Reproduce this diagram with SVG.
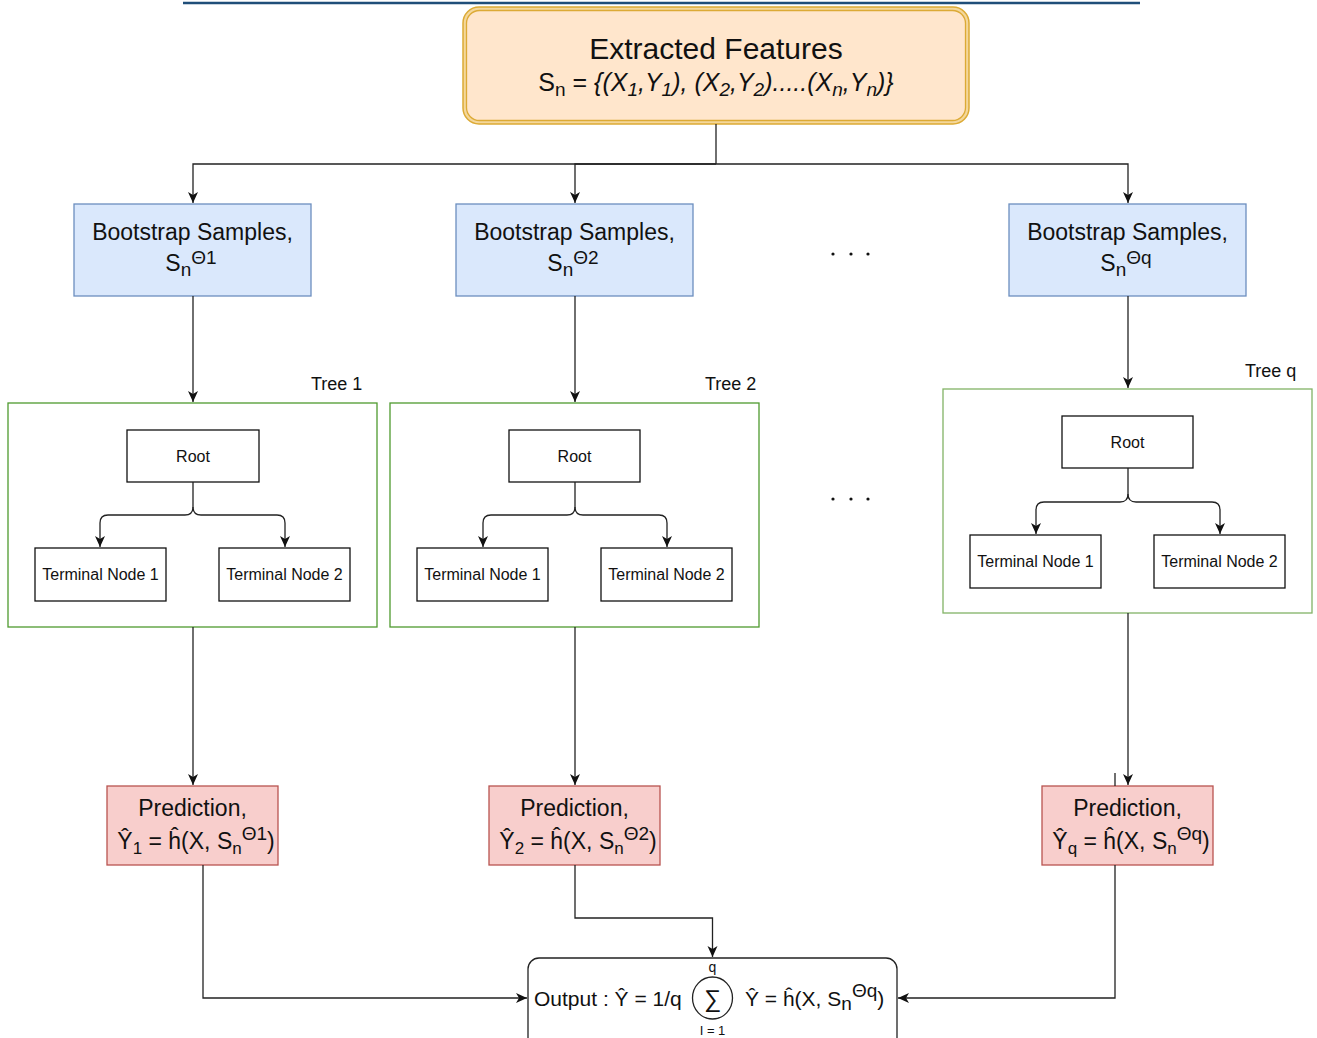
<svg xmlns="http://www.w3.org/2000/svg" width="1317" height="1038" viewBox="0 0 1317 1038">
<defs>
<marker id="arr" markerUnits="userSpaceOnUse" markerWidth="12" markerHeight="12" viewBox="0 0 12 12" refX="11" refY="6" orient="auto">
<path d="M0,1 L11,6 L0,11 L3,6 Z" fill="#111"/>
</marker>
<style>
text{font-family:"Liberation Sans",Arial,Helvetica,sans-serif;fill:#111}
.conn path,.conn line{fill:none;stroke:#222;stroke-width:1.3}
.boot{fill:#dae8fc;stroke:#6c8ebf;stroke-width:1.3}
.pred{fill:#f8cecc;stroke:#b85450;stroke-width:1.3}
.tree{fill:#fff;stroke:#4f9a2f;stroke-width:1.3}
.treeq{fill:#fff;stroke:#82b366;stroke-width:1.3}
.nd{fill:#fff;stroke:#111;stroke-width:1.3}
.big{font-size:23px}
.ndt{font-size:16px}
.lbl{font-size:18px}
.sub{font-size:17px}
.dot{fill:#111}
</style>
</defs>
<rect width="1317" height="1038" fill="#fff"/>
<line x1="183" y1="3" x2="1140" y2="3" stroke="#1f4e79" stroke-width="2.5"/>

<g id="extracted">
<rect x="463" y="7" width="506" height="117" rx="16" fill="#f4d79b" stroke="#dcaa35" stroke-width="1.5"/>
<rect x="466.5" y="10.5" width="499" height="110" rx="13" fill="#ffe6cc" stroke="#dcaa35" stroke-width="1.3"/>
<text x="716" y="59" text-anchor="middle" font-size="30">Extracted Features</text>
<text x="716" y="91" text-anchor="middle" font-size="25">S<tspan font-size="19" dy="5">n</tspan><tspan dy="-5"> = </tspan><tspan font-style="italic">{(X<tspan font-size="19" dy="5">1</tspan><tspan dy="-5">,Y</tspan><tspan font-size="19" dy="5">1</tspan><tspan dy="-5">), (X</tspan><tspan font-size="19" dy="5">2</tspan><tspan dy="-5">,Y</tspan><tspan font-size="19" dy="5">2</tspan><tspan dy="-5">).....(X</tspan><tspan font-size="19" dy="5">n</tspan><tspan dy="-5">,Y</tspan><tspan font-size="19" dy="5">n</tspan><tspan dy="-5">)}</tspan></tspan></text>
</g>

<g id="boot1">
<rect class="boot" x="74" y="204" width="237" height="92"/>
<text class="big" x="192.5" y="240" text-anchor="middle">Bootstrap Samples,</text>
<text class="big" x="191" y="271" text-anchor="middle">S<tspan font-size="19" dy="5">n</tspan><tspan dy="-12" font-size="19">Θ1</tspan></text>
</g>
<g id="boot2">
<rect class="boot" x="456" y="204" width="237" height="92"/>
<text class="big" x="574.5" y="240" text-anchor="middle">Bootstrap Samples,</text>
<text class="big" x="573" y="271" text-anchor="middle">S<tspan font-size="19" dy="5">n</tspan><tspan dy="-12" font-size="19">Θ2</tspan></text>
</g>
<g id="bootq">
<rect class="boot" x="1009" y="204" width="237" height="92"/>
<text class="big" x="1127.5" y="240" text-anchor="middle">Bootstrap Samples,</text>
<text class="big" x="1126" y="271" text-anchor="middle">S<tspan font-size="19" dy="5">n</tspan><tspan dy="-12" font-size="19">Θq</tspan></text>
</g>

<g id="dots1">
<circle class="dot" cx="833" cy="254" r="1.6"/><circle class="dot" cx="851" cy="254" r="1.6"/><circle class="dot" cx="868" cy="254" r="1.6"/>
</g>
<g id="dots2">
<circle class="dot" cx="833" cy="499" r="1.6"/><circle class="dot" cx="851" cy="499" r="1.6"/><circle class="dot" cx="868" cy="499" r="1.6"/>
</g>

<g id="tree1">
<rect class="tree" x="8" y="403" width="369" height="224"/>
<text class="lbl" x="311" y="390">Tree 1</text>
<g id="root1"><rect class="nd" x="127" y="430" width="132" height="52"/><text class="ndt" x="193" y="462" text-anchor="middle">Root</text></g>
<g id="t1n1"><rect class="nd" x="35" y="548" width="131" height="53"/><text class="ndt" x="100.5" y="580" text-anchor="middle">Terminal Node 1</text></g>
<g id="t1n2"><rect class="nd" x="219" y="548" width="131" height="53"/><text class="ndt" x="284.5" y="580" text-anchor="middle">Terminal Node 2</text></g>
</g>
<g id="tree2">
<rect class="tree" x="390" y="403" width="369" height="224"/>
<text class="lbl" x="705" y="390">Tree 2</text>
<g id="root2"><rect class="nd" x="509" y="430" width="131" height="52"/><text class="ndt" x="574.5" y="462" text-anchor="middle">Root</text></g>
<g id="t2n1"><rect class="nd" x="417" y="548" width="131" height="53"/><text class="ndt" x="482.5" y="580" text-anchor="middle">Terminal Node 1</text></g>
<g id="t2n2"><rect class="nd" x="601" y="548" width="131" height="53"/><text class="ndt" x="666.5" y="580" text-anchor="middle">Terminal Node 2</text></g>
</g>
<g id="treeq">
<rect class="treeq" x="943" y="389" width="369" height="224"/>
<text class="lbl" x="1245" y="377">Tree q</text>
<g id="rootq"><rect class="nd" x="1062" y="416" width="131" height="52"/><text class="ndt" x="1127.5" y="448" text-anchor="middle">Root</text></g>
<g id="tqn1"><rect class="nd" x="970" y="535" width="131" height="53"/><text class="ndt" x="1035.5" y="567" text-anchor="middle">Terminal Node 1</text></g>
<g id="tqn2"><rect class="nd" x="1154" y="535" width="131" height="53"/><text class="ndt" x="1219.5" y="567" text-anchor="middle">Terminal Node 2</text></g>
</g>

<g id="pred1">
<rect class="pred" x="107" y="786" width="171" height="79"/>
<text class="big" x="192.5" y="816" text-anchor="middle">Prediction,</text>
<text class="big" x="196" y="849" text-anchor="middle">Ŷ<tspan class="sub" dy="5">1</tspan><tspan dy="-5"> = ĥ(X, S</tspan><tspan class="sub" dy="5">n</tspan><tspan dy="-14" font-size="19">Θ1</tspan><tspan dy="9">)</tspan></text>
</g>
<g id="pred2">
<rect class="pred" x="489" y="786" width="171" height="79"/>
<text class="big" x="574.5" y="816" text-anchor="middle">Prediction,</text>
<text class="big" x="578" y="849" text-anchor="middle">Ŷ<tspan class="sub" dy="5">2</tspan><tspan dy="-5"> = ĥ(X, S</tspan><tspan class="sub" dy="5">n</tspan><tspan dy="-14" font-size="19">Θ2</tspan><tspan dy="9">)</tspan></text>
</g>
<g id="predq">
<rect class="pred" x="1042" y="786" width="171" height="79"/>
<text class="big" x="1127.5" y="816" text-anchor="middle">Prediction,</text>
<text class="big" x="1131" y="849" text-anchor="middle">Ŷ<tspan class="sub" dy="5">q</tspan><tspan dy="-5"> = ĥ(X, S</tspan><tspan class="sub" dy="5">n</tspan><tspan dy="-14" font-size="19">Θq</tspan><tspan dy="9">)</tspan></text>
</g>

<g id="output">
<rect x="528" y="958" width="369" height="100" rx="11" fill="none" stroke="#222" stroke-width="1.3"/>
<text x="534" y="1006" font-size="21">Output : Ŷ = 1/q</text>
<ellipse cx="712.5" cy="998" rx="20" ry="21" fill="#fff" stroke="#222" stroke-width="1.3"/>
<text x="712.5" y="1007" font-size="24" text-anchor="middle">∑</text>
<text x="712.5" y="972" font-size="14" text-anchor="middle">q</text>
<text x="712.5" y="1035" font-size="13" text-anchor="middle">I = 1</text>
<text x="745" y="1006" font-size="21">Ŷ = ĥ(X, S<tspan font-size="19" dy="4">n</tspan><tspan font-size="19" dy="-13">Θq</tspan><tspan dy="9">)</tspan></text>
</g>

<g class="conn" id="connectors">
<path d="M716,124 V164"/>
<path d="M716,164 H193 V203" marker-end="url(#arr)"/>
<path d="M716,164 H575 V203" marker-end="url(#arr)"/>
<path d="M716,164 H1128 V203" marker-end="url(#arr)"/>
<path d="M193,296 V402" marker-end="url(#arr)"/>
<path d="M575,296 V402" marker-end="url(#arr)"/>
<path d="M1128,296 V388" marker-end="url(#arr)"/>
<path d="M193,482 V507 Q193,515 185,515 H108 Q100,515 100,523 V547" marker-end="url(#arr)"/>
<path d="M193,507 Q193,515 201,515 H277 Q285,515 285,523 V547" marker-end="url(#arr)"/>
<path d="M575,482 V507 Q575,515 567,515 H491 Q483,515 483,523 V547" marker-end="url(#arr)"/>
<path d="M575,507 Q575,515 583,515 H659 Q667,515 667,523 V547" marker-end="url(#arr)"/>
<path d="M1128,468 V494 Q1128,502 1120,502 H1044 Q1036,502 1036,510 V534" marker-end="url(#arr)"/>
<path d="M1128,494 Q1128,502 1136,502 H1212 Q1220,502 1220,510 V534" marker-end="url(#arr)"/>
<path d="M193,627 V785" marker-end="url(#arr)"/>
<path d="M575,627 V785" marker-end="url(#arr)"/>
<path d="M1128,613 V785" marker-end="url(#arr)"/>
<line x1="1115" y1="773" x2="1115" y2="786"/>
<path d="M203,865 V998 H527" marker-end="url(#arr)"/>
<path d="M575,865 V918 H712.5 V957" marker-end="url(#arr)"/>
<path d="M1115,865 V998 H898" marker-end="url(#arr)"/>
</g>
</svg>
